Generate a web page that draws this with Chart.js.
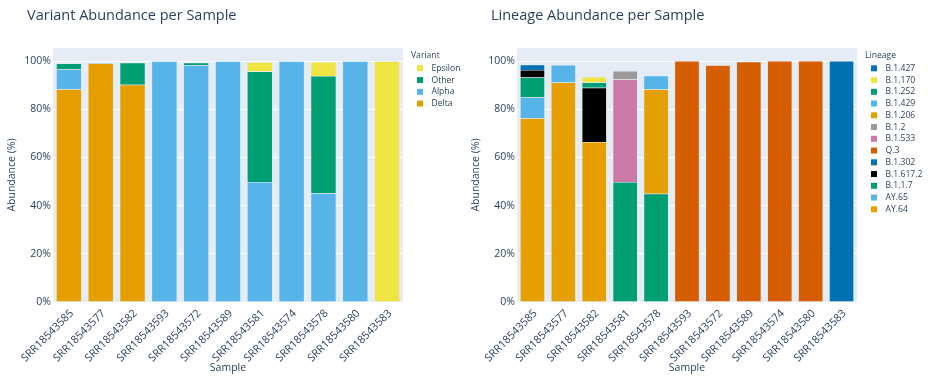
<!DOCTYPE html>
<html>
<head>
<meta charset="utf-8">
<script src="https://cdn.jsdelivr.net/npm/chart.js@4.4.1/dist/chart.umd.min.js"></script>
<style>
  html, body { margin: 0; padding: 0; background: #fff; }
  #wrap { position: relative; width: 936px; height: 382px; overflow: hidden; }
  .box { position: absolute; top: 0; height: 382px; }
</style>
</head>
<body>
<div id="wrap">
  <div class="box" style="left:0;width:464px"><canvas id="variantChart"></canvas></div>
  <div class="box" style="left:464px;width:472px"><canvas id="lineageChart"></canvas></div>
</div>
<script>
// variant chart data
const variantSamples = ['SRR18543585', 'SRR18543577', 'SRR18543582', 'SRR18543593', 'SRR18543572', 'SRR18543589', 'SRR18543581', 'SRR18543574', 'SRR18543578', 'SRR18543580', 'SRR18543583']
const delta   = [88.3, 99.0, 90.2, 0, 0, 0, 0, 0, 0, 0, 0]
const alpha   = [8.2, 0, 0, 99.9, 98.2, 99.9, 49.8, 99.9, 45.1, 99.9, 0]
const other   = [2.5, 0.4, 9.1, 0, 1.1, 0, 45.9, 0, 48.7, 0, 0]
const epsilon = [0, 0, 0, 0, 0, 0, 3.8, 0, 5.8, 0, 99.9]

// lineage chart data
const lineageSamples = ['SRR18543585', 'SRR18543577', 'SRR18543582', 'SRR18543581', 'SRR18543578', 'SRR18543593', 'SRR18543572', 'SRR18543589', 'SRR18543574', 'SRR18543580', 'SRR18543583']
const ay64    = [76.3, 91.1, 66.4, 0, 0, 0, 0, 0, 0, 0, 0]
const ay65    = [8.6, 7.2, 0, 0, 0, 0, 0, 0, 0, 0, 0]
const b117    = [8.3, 0, 0, 49.8, 44.9, 0, 0, 0, 0, 0, 0]
const b16172  = [3.1, 0, 22.5, 0, 0, 0, 0, 0, 0, 0, 0]
const b1302   = [2.2, 0, 0, 0, 0, 0, 0, 0, 0, 0, 0]
const q3      = [0, 0, 0, 0, 0, 100, 98.2, 99.7, 100, 100, 0]
const b1533   = [0, 0, 0, 42.6, 0, 0, 0, 0, 0, 0, 0]
const b12     = [0, 0, 0, 3.5, 0, 0, 0, 0, 0, 0, 0]
const b1206   = [0, 0, 0, 0, 43.4, 0, 0, 0, 0, 0, 0]
const b1429   = [0, 0, 0, 0, 5.6, 0, 0, 0, 0, 0, 0]
const b1252   = [0, 0, 2.2, 0, 0, 0, 0, 0, 0, 0, 0]
const b1170   = [0, 0, 2.3, 0, 0, 0, 0, 0, 0, 0, 0]
const b1427   = [0, 0, 0, 0, 0, 0, 0, 0, 0, 0, 100]

const yTicks = [0, 20, 40, 60, 80, 100]

const textColor = '#2a3f5f'
const fontFamily = '"Open Sans", sans-serif'

// grey plot background behind the bars
const plotBg = {
    id: 'plotBg',
    beforeDraw(chart) {
        const a = chart.chartArea
        const c = chart.ctx
        c.save()
        c.fillStyle = '#E5ECF6'
        c.fillRect(a.left, a.top, a.right - a.left, a.bottom - a.top)
        c.restore()
    }
}

// plotly-like title and legend, placed by hand
const decorations = {
    id: 'decorations',
    afterDraw(chart, args, opts) {
        const c = chart.ctx
        const a = chart.chartArea
        c.save()
        c.fillStyle = textColor
        c.textBaseline = 'middle'
        c.textAlign = 'left'
        c.font = '14.5px ' + fontFamily
        c.fillText(opts.title, 27, 16)

        c.font = '8.6px ' + fontFamily
        const x0 = a.right + 8
        c.fillText(opts.legendTitle, x0, 56)
        const sets = chart.data.datasets.slice().reverse()
        sets.forEach((ds, i) => {
            const y = 68.3 + i * 11.75
            c.fillStyle = ds.backgroundColor
            c.fillRect(a.right + 14, y - 3, 6, 6)
            c.fillStyle = textColor
            c.fillText(ds.label, a.right + 28.5, y)
        })
        c.restore()
    }
}

function makeOptions(padRight, title, legendTitle) {
    return {
        responsive: false,
        animation: false,
        layout: { autoPadding: false, padding: { top: 48, right: padRight, left: 0, bottom: 0 } },
        plugins: {
            legend: { display: false },
            tooltip: { enabled: false },
            decorations: { title: title, legendTitle: legendTitle }
        },
        scales: {
            x: {
                stacked: true,
                grid: { display: false, drawTicks: false },
                border: { display: false },
                ticks: {
                    autoSkip: false, minRotation: 45, maxRotation: 45, padding: 5, labelOffset: 3,
                    color: textColor, font: { family: fontFamily, size: 10.8 }
                },
                title: {
                    display: true, text: 'Sample', color: textColor,
                    font: { family: fontFamily, size: 10.5 }, padding: { top: 0, bottom: 7.7 }
                },
                afterFit(scale) { scale.height = 80 }
            },
            y: {
                stacked: true,
                min: 0,
                max: 105.4,
                grid: { color: '#ffffff', lineWidth: 1, drawTicks: false },
                border: { display: false },
                afterBuildTicks(scale) { scale.ticks = yTicks.map(v => ({ value: v })) },
                ticks: {
                    padding: 2, color: textColor, font: { family: fontFamily, size: 10.5 },
                    callback: v => v + '%'
                },
                title: {
                    display: true, text: 'Abundance (%)', color: textColor,
                    font: { family: fontFamily, size: 10.5 }, padding: { top: 6, bottom: 0 }
                },
                afterFit(scale) { scale.width = 53 }
            }
        }
    }
}

function bar(label, data, color) {
    return {
        label: label,
        data: data,
        backgroundColor: color,
        borderColor: '#E5ECF6',
        borderWidth: 0.5,
        barPercentage: 0.8,
        categoryPercentage: 1.0
    }
}

const ctx1 = document.getElementById('variantChart')
ctx1.width = 464
ctx1.height = 382
const variantChart = new Chart(ctx1, {
    type: 'bar',
    data: {
        labels: variantSamples,
        datasets: [
            bar('Delta', delta, '#E69F00'),
            bar('Alpha', alpha, '#56B4E9'),
            bar('Other', other, '#009E73'),
            bar('Epsilon', epsilon, '#F0E442')
        ]
    },
    options: makeOptions(61, 'Variant Abundance per Sample', 'Variant'),
    plugins: [plotBg, decorations]
})

const ctx2 = document.getElementById('lineageChart')
ctx2.width = 472
ctx2.height = 382
const lineageChart = new Chart(ctx2, {
    type: 'bar',
    data: {
        labels: lineageSamples,
        datasets: [
            bar('AY.64', ay64, '#E69F00'),
            bar('AY.65', ay65, '#56B4E9'),
            bar('B.1.1.7', b117, '#009E73'),
            bar('B.1.617.2', b16172, '#000000'),
            bar('B.1.302', b1302, '#0072B2'),
            bar('Q.3', q3, '#D55E00'),
            bar('B.1.533', b1533, '#CC79A7'),
            bar('B.1.2', b12, '#999999'),
            bar('B.1.206', b1206, '#E69F00'),
            bar('B.1.429', b1429, '#56B4E9'),
            bar('B.1.252', b1252, '#009E73'),
            bar('B.1.170', b1170, '#F0E442'),
            bar('B.1.427', b1427, '#0072B2')
        ]
    },
    options: makeOptions(79, 'Lineage Abundance per Sample', 'Lineage'),
    plugins: [plotBg, decorations]
})
</script>
</body>
</html>
